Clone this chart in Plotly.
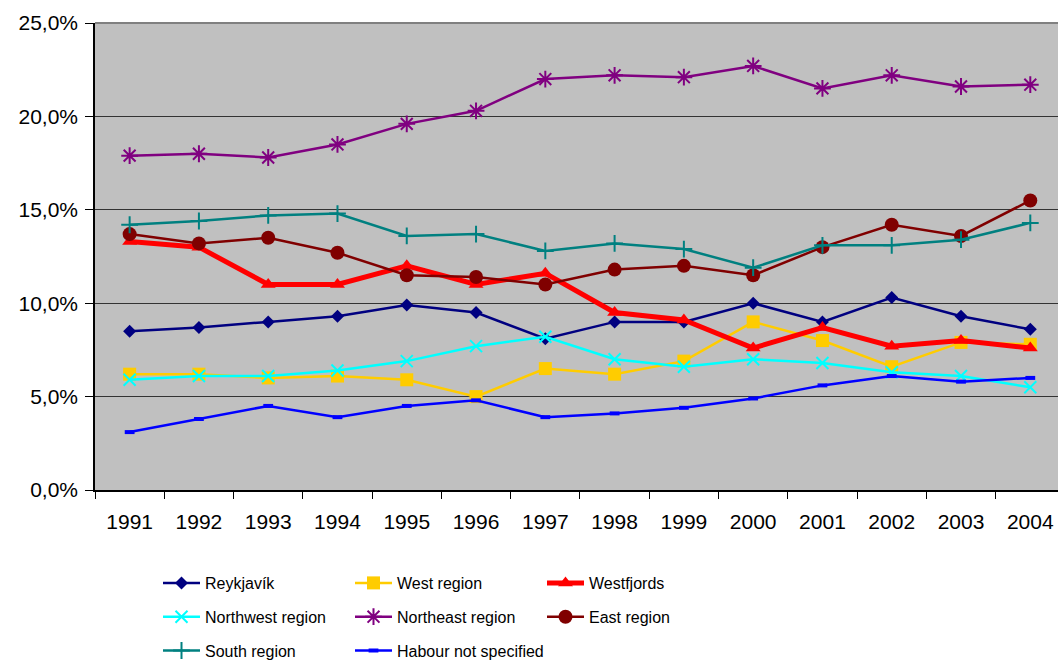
import plotly.graph_objects as go

years = [str(y) for y in range(1991, 2005)]

reykjavik = [8.5, 8.7, 9.0, 9.3, 9.9, 9.5, 8.1, 9.0, 9.0, 10.0, 9.0, 10.3, 9.3, 8.6]
west_region = [6.2, 6.2, 6.0, 6.1, 5.9, 5.0, 6.5, 6.2, 6.9, 9.0, 8.0, 6.6, 7.9, 7.8]
westfjords = [13.3, 13.0, 11.0, 11.0, 12.0, 11.0, 11.6, 9.5, 9.1, 7.6, 8.7, 7.7, 8.0, 7.6]
northwest = [5.9, 6.1, 6.1, 6.4, 6.9, 7.7, 8.2, 7.0, 6.6, 7.0, 6.8, 6.3, 6.1, 5.5]
northeast = [17.9, 18.0, 17.8, 18.5, 19.6, 20.3, 22.0, 22.2, 22.1, 22.7, 21.5, 22.2, 21.6, 21.7]
east_region = [13.7, 13.2, 13.5, 12.7, 11.5, 11.4, 11.0, 11.8, 12.0, 11.5, 13.0, 14.2, 13.6, 15.5]
south_region = [14.2, 14.4, 14.7, 14.8, 13.6, 13.7, 12.8, 13.2, 12.9, 11.9, 13.1, 13.1, 13.4, 14.3]
habour_ns = [3.1, 3.8, 4.5, 3.9, 4.5, 4.8, 3.9, 4.1, 4.4, 4.9, 5.6, 6.1, 5.8, 6.0]

y_ticks = [0, 5, 10, 15, 20, 25]
y_ticktext = ["0,0%", "5,0%", "10,0%", "15,0%", "20,0%", "25,0%"]

# name, data, colour, symbol, marker size, line width, legend
series = [
    ("Reykjavík", reykjavik, "#000080", "diamond", 10, 2.5, "legend"),
    ("West region", west_region, "#FFCC00", "square", 13, 2.5, "legend2"),
    ("Westfjords", westfjords, "#FF0000", "triangle-up", 13, 5, "legend3"),
    ("Northwest region", northwest, "#00FFFF", "x-thin-open", 12, 2.5, "legend"),
    ("Northeast region", northeast, "#800080", "asterisk-open", 14, 2.5, "legend2"),
    ("East region", east_region, "#800000", "circle", 14, 2.5, "legend3"),
    ("South region", south_region, "#008080", "cross-thin-open", 12, 2.5, "legend"),
    ("Habour not specified", habour_ns, "#0000FF", "line-ew-open", 7, 2.5, "legend2"),
]

fig = go.Figure()
for name, vals, col, sym, size, lw, leg in series:
    open_sym = sym.endswith("-open")
    fig.add_trace(go.Scatter(
        x=years, y=vals, name=name, mode="lines+markers",
        line=dict(color=col, width=lw),
        marker=dict(symbol=sym, size=size, color=col,
                    line=dict(color=col, width=4 if sym.startswith("line") else (2 if open_sym else 0))),
        legend=leg, legendgroup=name,
    ))

W, H = 1058, 662
L, R, T, B = 95, 0, 23, 172
pw, ph = W - L - R, H - T - B

def px_x(p):
    return (p - L) / pw

def px_y(p):
    return (H - B - p) / ph

legend_common = dict(
    orientation="v", yanchor="top", xanchor="left",
    font=dict(family="Liberation Sans, Arial", size=16, color="black"),
    bgcolor="rgba(0,0,0,0)", tracegroupgap=10, itemclick=False, itemwidth=37,
)

fig.update_layout(
    width=W, height=H,
    margin=dict(l=L, r=R, t=T, b=B, autoexpand=False),
    paper_bgcolor="white",
    plot_bgcolor="#C0C0C0",
    font=dict(family="Liberation Sans, Arial", size=21, color="black"),
    showlegend=True,
    legend=dict(legend_common, x=px_x(158), y=px_y(566)),
    legend2=dict(legend_common, x=px_x(350), y=px_y(566)),
    legend3=dict(legend_common, x=px_x(542), y=px_y(566)),
    shapes=[dict(type="line", xref="paper", yref="paper", x0=0, x1=1, y0=1, y1=1,
                 line=dict(color="#808080", width=2))],
)

fig.update_xaxes(
    type="category", range=[-0.5, 13.4], automargin=False,
    showline=True, linecolor="black", linewidth=1.5,
    ticks="outside", ticklen=7, tickcolor="black", tickson="boundaries",
    showgrid=False, zeroline=False, ticklabelstandoff=12,
)
fig.update_yaxes(
    range=[0, 25], tickvals=y_ticks, ticktext=y_ticktext, automargin=False,
    showline=True, linecolor="black", linewidth=1.5,
    ticks="outside", ticklen=8, tickcolor="black",
    showgrid=True, gridcolor="#333333", gridwidth=1, zeroline=False,
    ticklabelstandoff=3,
)

# page body has a default margin; drop it so the figure sits at the window corner
fig.write_html("out.html", config={"displayModeBar": False},
               post_script="document.body.style.margin='0px';")
